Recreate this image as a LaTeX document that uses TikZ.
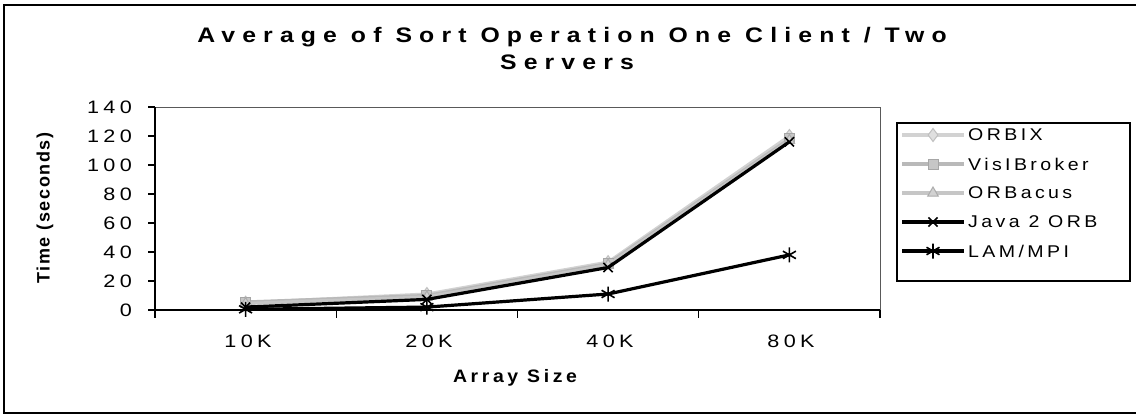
\documentclass[tikz,border=0pt]{standalone}
\usepackage{fontspec}
\setmainfont{Liberation Sans}
\newfontfamily\titlefam[LetterSpace=34,FakeStretch=1.18]{Liberation Sans}
\newfontfamily\axisfam[LetterSpace=24,FakeStretch=1.2]{Liberation Sans}
\newfontfamily\legfam[LetterSpace=20,FakeStretch=1.15]{Liberation Sans}
\newfontfamily\labfam[LetterSpace=20,FakeStretch=1.08]{Liberation Sans}
\newfontfamily\ylabfam[LetterSpace=9]{Liberation Sans}
\usetikzlibrary{plotmarks}
\tikzset{
  titletext/.style={font=\titlefam\bfseries\fontsize{21}{27}\selectfont, inner sep=0pt},
  axistext/.style={font=\axisfam\fontsize{18}{20}\selectfont, inner sep=0pt},
  legtext/.style={font=\legfam\fontsize{17}{19}\selectfont, inner sep=0pt, anchor=west},
  labtext/.style={font=\labfam\bfseries\fontsize{18}{20}\selectfont, inner sep=0pt},
  ylabtext/.style={font=\ylabfam\bfseries\fontsize{18}{20}\selectfont, inner sep=0pt},
  sorbix/.style={line width=3.2pt, gray!35, mark=diamond*, mark size=6.5pt, mark options={fill=gray!25, draw=gray!50, line width=1pt}},
  svisi/.style={line width=3.2pt, gray!55, mark=square*, mark size=5pt, mark options={fill=gray!45, draw=gray!70, line width=1pt}},
  sorbacus/.style={line width=3.2pt, gray!45, mark=triangle*, mark size=6pt, mark options={fill=gray!35, draw=gray!65, line width=1pt}},
  sjava/.style={line width=3.2pt, black, mark=x, mark size=6.5pt, mark options={line width=1.6pt}},
  slam/.style={line width=3.2pt, black, mark=asterisk, mark size=7.5pt, mark options={line width=1.6pt}},
  axisline/.style={line width=1.4pt, black},
  legsample/.style={mark indices={2}},
}
\begin{document}
\begin{tikzpicture}[x=1pt,y=-1pt]
\useasboundingbox (0,0) rectangle (1136,415);
\fill[white] (0,0) rectangle (1136,415);
% outer frame
\coordinate (fr-tr) at (1142,5);
\coordinate (fr-tl) at (4,5);
\coordinate (fr-bl) at (4,413);
\coordinate (fr-br) at (1142,413);
\draw[line width=1.8pt] (fr-tr) -- (fr-tl) -- (fr-bl) -- (fr-br);
% title
\node[titletext, anchor=base] (title1) at (572,42) {Average of Sort Operation One Client / Two};
\node[titletext, anchor=base] (title2) at (567,69) {Servers};
% plot area
\coordinate (pa-tl) at (155,107);
\coordinate (pa-tr) at (880,107);
\coordinate (pa-bl) at (155,310);
\coordinate (pa-br) at (880,310);
\draw[line width=1pt, gray!70!black] (pa-bl) -- (pa-tl) -- (pa-tr) -- (pa-br);
\draw[axisline] (pa-tl) -- (pa-bl) -- (pa-br);
\foreach \v in {0,20,...,140}{
  \pgfmathsetmacro\yy{310-1.45*\v}
  \draw[axisline] (148,\yy) -- (155,\yy);
  \node[axistext, anchor=east] (yl\v) at (132,\yy) {\v};
}
\foreach \xx in {155,336.25,517.5,698.75,880}{
  \draw[axisline] (\xx,310) -- (\xx,318);
}
\node[axistext] (xl1) at (248,341) {10K};
\node[axistext] (xl2) at (429,341) {20K};
\node[axistext] (xl3) at (610,341) {40K};
\node[axistext] (xl4) at (791,341) {80K};
\node[labtext] (xtitle) at (515,378) {Array Size};
\node[ylabtext, rotate=90] (ytitle) at (45,208) {Time (seconds)};
% series
\draw[sorbix] plot coordinates {(245.6,302.75) (426.9,294.05) (608.1,262.15) (789.4,136)};
\draw[svisi] plot coordinates {(245.6,302) (426.9,295.5) (608.1,263.6) (789.4,138.9)};
\draw[sorbacus] plot coordinates {(245.6,303.5) (426.9,297) (608.1,265) (789.4,140.4)};
\draw[sjava] plot coordinates {(245.6,307.1) (426.9,299.4) (608.1,267.5) (789.4,141.8)};
\draw[slam] plot coordinates {(245.6,309.3) (426.9,307.1) (608.1,294) (789.4,254.9)};
% legend
\coordinate (lg-tl) at (897,123);
\coordinate (lg-br) at (1130,281);
\draw[line width=1.2pt] (lg-tl) rectangle (lg-br);
\draw[sorbix, legsample] plot coordinates {(902,135) (933,135) (964,135)};
\node[legtext] (lt1) at (968,135) {ORBIX};
\draw[svisi, legsample] plot coordinates {(902,164) (933,164) (964,164)};
\node[legtext] (lt2) at (968,164) {VisIBroker};
\draw[sorbacus, legsample] plot coordinates {(902,193) (933,193) (964,193)};
\node[legtext] (lt3) at (968,193) {ORBacus};
\draw[sjava, legsample] plot coordinates {(902,222) (933,222) (964,222)};
\node[legtext] (lt4) at (968,222) {Java 2 ORB};
\draw[slam, legsample] plot coordinates {(902,251) (933,251) (964,251)};
\node[legtext] (lt5) at (968,251) {LAM/MPI};
\end{tikzpicture}
\end{document}
